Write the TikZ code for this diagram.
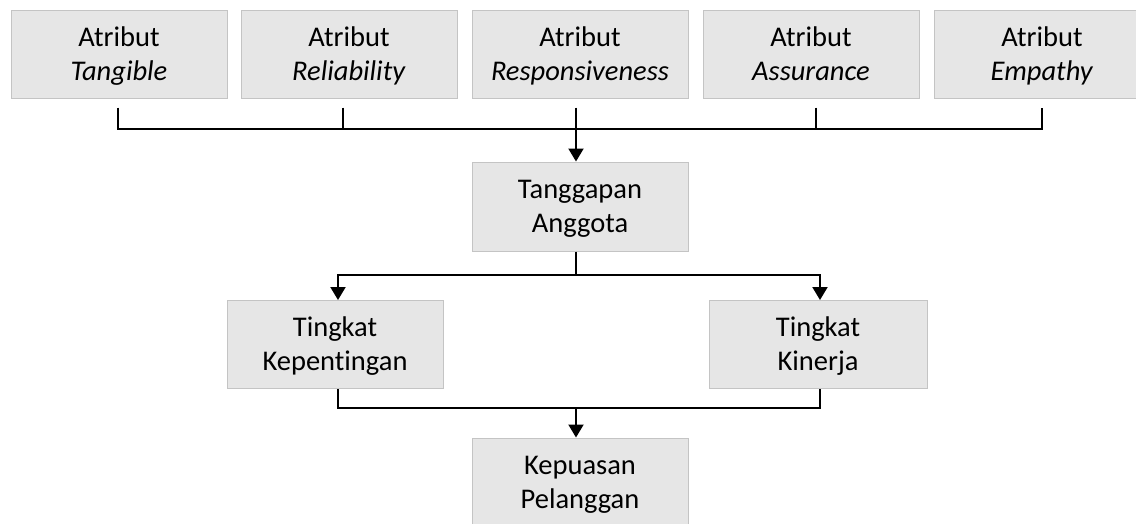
\documentclass[tikz,border=0pt]{standalone}
\usepackage{fontspec}
\setmainfont[Ligatures=NoCommon]{Carlito}
\usetikzlibrary{arrows.meta}
\definecolor{boxfill}{HTML}{E6E6E6}
\definecolor{boxline}{HTML}{C4C4C4}
\begin{document}
\begin{tikzpicture}[x=1pt,y=-1pt,
  box/.style={draw=boxline, fill=boxfill, line width=1pt, minimum width=216pt,
    minimum height=88pt, align=center, inner sep=0pt,
    text height=70pt, text depth=18pt,
    font=\fontsize{28.5}{34}\selectfont},
  conn/.style={line width=2pt, draw=black},
  arr/.style={conn, -{Triangle[length=13pt,width=15pt]}}]
\clip (0,0) rectangle (1136,523);
\fill[white] (0,0) rectangle (1136,523);

\node[box] (a1) at (119,54) {Atribut\\\textit{Tangible}};
\node[box] (a2) at (349,54) {Atribut\\\textit{Reliability}};
\node[box] (a3) at (580,54) {Atribut\\\textit{Responsiveness}};
\node[box] (a4) at (811,54) {Atribut\\\textit{Assurance}};
\node[box] (a5) at (1042,54) {Atribut\\\textit{Empathy}};
\node[box, minimum height=89pt] (tg) at (580,206.5) {Tanggapan\\Anggota};
\node[box, minimum height=87pt] (tk) at (335,344.5) {Tingkat\\Kepentingan};
\node[box, minimum width=218pt, minimum height=87pt] (kn) at (818,344.5) {Tingkat\\Kinerja};
\node[box] (kp) at (580,482) {Kepuasan\\Pelanggan};

% top bus
\draw[conn] ([xshift=-1pt,yshift=-9pt]a1.south) -- ++(0,21) coordinate (bus1)
  -| ([yshift=-9pt]a5.south);
\draw[conn] ([xshift=-6pt,yshift=-9pt]a2.south) -- ++(0,21);
\draw[conn] ([xshift=5pt,yshift=-9pt]a4.south) -- ++(0,21);
\coordinate (tgin) at ([xshift=-4pt]tg.north);
\draw[arr] ([xshift=-4pt,yshift=-9pt]a3.south) -- (tgin);

% middle split
\draw[conn] ([xshift=-4pt]tg.south) -- ++(0,23) coordinate (m2);
\draw[arr] (m2) -| ([xshift=3pt]tk.north);
\draw[arr] (m2) -| ([xshift=2pt]kn.north);

% bottom merge
\draw[conn] ([xshift=3pt]tk.south) -- ++(0,19) coordinate (b3l)
  -| ([xshift=2pt]kn.south);
\coordinate (kpin) at ([xshift=-4pt]kp.north);
\draw[arr] (kpin |- b3l) -- (kpin);
\end{tikzpicture}
\end{document}
